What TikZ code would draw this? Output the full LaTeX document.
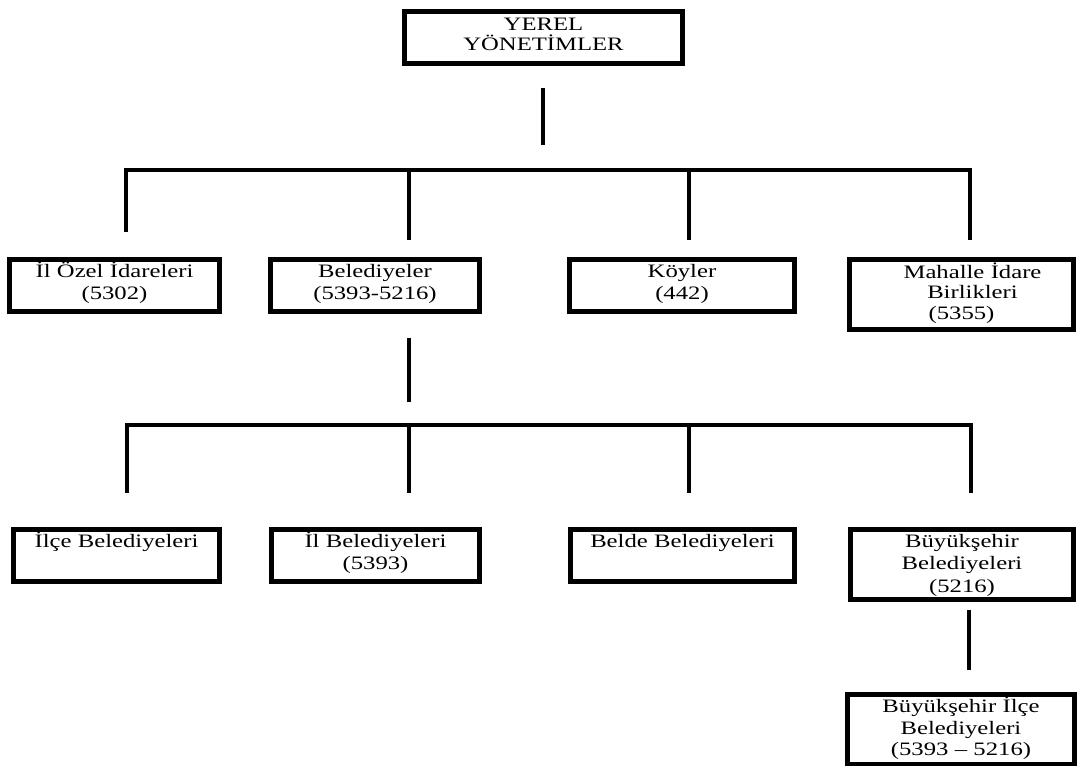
\documentclass[tikz,border=0pt]{standalone}
\usepackage{fontspec}
\setmainfont{Liberation Serif}[FakeStretch=1.3]
\usetikzlibrary{positioning}
\tikzset{unit/.style={rectangle,draw,line width=3.4pt,anchor=north,align=center,inner xsep=0pt,inner ysep=2.4pt,text height=10pt,text depth=22pt,font=\fontsize{13.5}{15.5}\selectfont},
         tallunit/.style={unit,text depth=34.8pt},
         branch/.style={line width=3.2pt}}

\begin{document}
\begin{tikzpicture}[x=0.025cm,y=-0.025cm]
    \useasboundingbox (0,0) rectangle (1081,766);
    \node (yerel) [unit, text width=6.95cm, text depth=21.3pt, text height=10.7pt, font=\fontsize{13.5}{14.4}\selectfont] at (543.5,9.5) {YEREL\\YÖNETİMLER};
    % first level
    \node (ilozel) [unit, text width=5.25cm] at (114.5,257.5) {İl Özel İdareleri\\(5302)};
    \node (belediyeler) [unit, text width=5.225cm] at (375,257.5) {Belediyeler\\(5393-5216)};
    \node (koyler) [unit, text width=5.625cm] at (682,257.5) {Köyler\\(442)};
    \node (mahalle) [tallunit, text width=5.6cm, text height=11.1pt, text depth=33.7pt, font=\fontsize{13.5}{14.3}\selectfont] at (961.5,257.5) {\hspace*{0.55cm}Mahalle İdare\\\hspace*{0.55cm}Birlikleri\\(5355)};
    % second level
    \node (ilce) [unit, text width=5.15cm] at (116.5,527.5) {İlçe Belediyeleri};
    \node (ilbel) [unit, text width=5.2cm] at (375.5,527.5) {İl Belediyeleri\\(5393)};
    \node (belde) [unit, text width=5.6cm] at (682.5,527.5) {Belde Belediyeleri};
    \node (buyuksehir) [tallunit, text width=5.575cm, font=\fontsize{13.5}{16}\selectfont] at (962,527.5) {Büyükşehir\\Belediyeleri\\(5216)};
    \node (bsilce) [tallunit, text width=5.675cm] at (961,692.5) {Büyükşehir İlçe\\Belediyeleri\\(5393 -- 5216)};
    % trunks
    \coordinate (yerel-a) at (543,88);
    \coordinate (yerel-b) at (543,145);
    \coordinate (bel-a) at (409,338);
    \coordinate (bel-b) at (409,402);
    \coordinate (bsh-a) at (969,610);
    \coordinate (bsh-b) at (969,670);
    \draw[branch] (yerel-a) -- (yerel-b);
    \draw[branch] (bel-a) -- (bel-b);
    \draw[branch] (bsh-a) -- (bsh-b);
    % branch bars with their drops
    \draw[branch] (124,170) -- (972,170);
    \foreach \x/\y [count=\i] in {126/232,409/240,689/240,970/240}
      \draw[branch] (\x,168.5) -- (\x,\y) coordinate (drop\i);
    \draw[branch] (125,425) -- (973,425);
    \foreach \x [count=\i] in {127,409,689,971}
      \draw[branch] (\x,423.5) -- (\x,493) coordinate (sub\i);
  \end{tikzpicture}
\end{document}
